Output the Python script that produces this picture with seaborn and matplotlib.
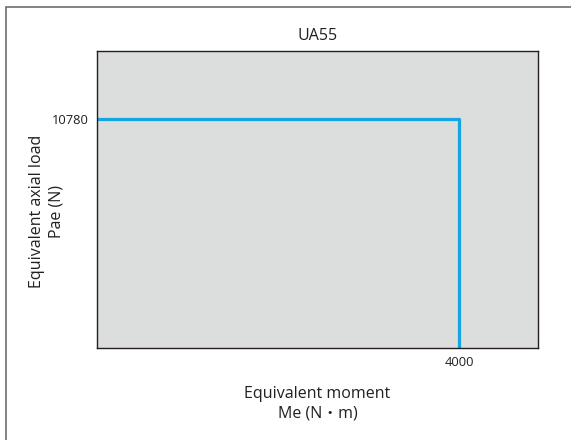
import matplotlib
matplotlib.use("Agg")
import matplotlib.pyplot as plt
import seaborn as sns
import pandas as pd
from matplotlib.patches import Rectangle

moment = [0, 4000, 4000]
load = [10780, 10780, 0]
xticks = [4000]
yticks = [10780]
title = "UA55"

sns.set_theme(style="white")
plt.rcParams['font.family'] = ['Open Sans', 'Noto Sans CJK JP', 'DejaVu Sans']

fig = plt.figure(figsize=(5.71, 4.40), dpi=100)
ax = fig.add_axes([97/571, 1-348/440, (538-97)/571, (348-51)/440])
ax.set_facecolor("#dcdddd")

df = pd.DataFrame({"Me": moment, "Pae": load})
sns.lineplot(data=df, x="Me", y="Pae", sort=False, ax=ax, color="#14a6e0", lw=2.3, estimator=None)

ax.set_xlim(0, 4872)
ax.set_ylim(0, 13980)
ax.set_xticks(xticks)
ax.set_yticks(yticks)
ax.set_xticklabels([str(v) for v in xticks], fontsize=9.3, color="#231f20")
ax.set_yticklabels([str(v) for v in yticks], fontsize=9.3, color="#231f20")
ax.tick_params(length=0, pad=6)
for s in ax.spines.values():
    s.set_color("#231f20")
    s.set_linewidth(1.0)

ax.set_xlabel("Equivalent moment\nMe (N・m)", fontsize=11.5, color="#231f20", labelpad=12, linespacing=1.3)
ax.set_ylabel("Equivalent axial load\nPae (N)", fontsize=11.5, color="#231f20", linespacing=1.3,
              va="center", ha="center")
ax.yaxis.set_label_coords(-0.113, 0.461)
ax.set_title(title, fontsize=11.5, color="#231f20", pad=8)

fig.patches.append(Rectangle((6/571, -0.01), 1.0, 1 - 7/440 + 0.01, transform=fig.transFigure,
                             fill=False, edgecolor="#6d6e71", lw=1.2, clip_on=False))

fig.savefig("out.png", dpi=100)
